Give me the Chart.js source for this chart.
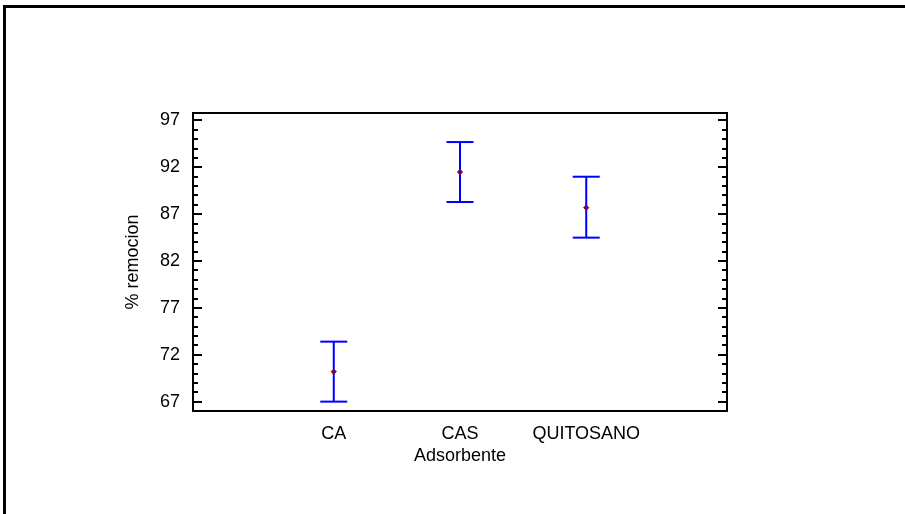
<!DOCTYPE html>
<html>
<head>
<meta charset="utf-8">
<script src="https://cdn.jsdelivr.net/npm/chart.js@4.4.1/dist/chart.umd.min.js"></script>
<style>
  html, body { margin: 0; padding: 0; background: #fff; overflow: hidden; }
  #wrap { position: relative; width: 905px; height: 514px; overflow: hidden; }
  #frame { position: absolute; left: 3px; top: 5px; width: 1000px; height: 600px;
           border-left: 3px solid #000; border-top: 3px solid #000; }
  #chart { position: absolute; left: 0; top: 0; }
</style>
</head>
<body>
<div id="wrap">
  <div id="frame"></div>
  <canvas id="chart" width="905" height="514"></canvas>
</div>
<script>
const categories = ['CA', 'CAS', 'QUITOSANO'];
const means = [70.2, 91.5, 87.7];
const lower = [67.0, 88.3, 84.5];
const upper = [73.4, 94.7, 91.0];
const yTicks = [67, 72, 77, 82, 87, 92, 97];

const positions = categories.map((c, i) => i + 1);

// haste + tampas de cada intervalo, separados por null
const barPoints = [];
positions.forEach((x, i) => {
  barPoints.push({ x: x, y: lower[i] });
  barPoints.push({ x: x, y: upper[i] });
  barPoints.push({ x: x, y: null });
});
const meanPoints = positions.map((x, i) => ({ x: x, y: means[i] }));

const font = { family: '"Liberation Sans", Arial, sans-serif', size: 18 };

// moldura do grafico e marcas para dentro (maiores e menores)
const frameTicks = {
  id: 'frameTicks',
  afterDraw(chart) {
    const { ctx, chartArea: a, scales: { y } } = chart;
    ctx.save();
    ctx.strokeStyle = '#000';
    ctx.lineWidth = 2;
    ctx.strokeRect(a.left, a.top, a.right - a.left, a.bottom - a.top);
    for (let v = yTicks[0]; v <= yTicks[yTicks.length - 1]; v++) {
      const py = Math.round(y.getPixelForValue(v));
      const len = yTicks.includes(v) ? 9 : 5;
      ctx.beginPath();
      ctx.moveTo(a.left, py); ctx.lineTo(a.left + len, py);
      ctx.moveTo(a.right, py); ctx.lineTo(a.right - len, py);
      ctx.stroke();
    }
    ctx.restore();
  }
};

new Chart(document.getElementById('chart').getContext('2d'), {
  type: 'scatter',
  data: {
    datasets: [
      {
        label: 'media',
        data: meanPoints,
        pointStyle: 'rectRot',
        pointRadius: 2.6,
        backgroundColor: '#800040',
        borderColor: '#800040',
        borderWidth: 1
      },
      {
        label: 'intervalo',
        data: barPoints,
        showLine: true,
        spanGaps: false,
        borderColor: '#0000ff',
        borderWidth: 2,
        pointStyle: 'line',
        pointRadius: 13.5,
        pointBorderColor: '#0000ff',
        pointBorderWidth: 2
      }
    ]
  },
  options: {
    responsive: false,
    animation: false,
    events: [],
    layout: { padding: { top: 113, right: 178, left: 0, bottom: 0 } },
    plugins: { legend: { display: false }, tooltip: { enabled: false } },
    scales: {
      x: {
        type: 'linear',
        min: -0.115,
        max: 4.115,
        afterBuildTicks: s => { s.ticks = positions.map(v => ({ value: v })); },
        afterFit: s => { s.height = 103; },
        grid: { display: false, drawTicks: false },
        border: { display: false },
        ticks: {
          color: '#000', font: font, padding: 12, maxRotation: 0, autoSkip: false,
          callback: v => categories[v - 1]
        },
        title: { display: true, text: 'Adsorbente', color: '#000', font: font,
                 padding: { top: 0, bottom: 47 } }
      },
      y: {
        min: 66,
        max: 97.8,
        afterBuildTicks: s => { s.ticks = yTicks.map(v => ({ value: v })); },
        afterFit: s => { s.width = 193; },
        grid: { display: false, drawTicks: false },
        border: { display: false },
        ticks: { color: '#000', font: font, padding: 13 },
        title: { display: true, text: '% remocion', color: '#000', font: font,
                 padding: { top: 122, bottom: 0 } }
      }
    }
  },
  plugins: [frameTicks]
});
</script>
</body>
</html>
